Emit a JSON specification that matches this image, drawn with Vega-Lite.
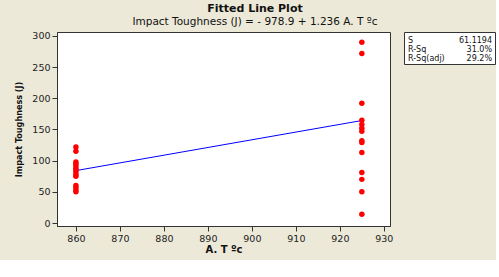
{
  "$schema": "https://vega.github.io/schema/vega-lite/v6.json",
  "background": "#ECE9D8",
  "padding": {"left": 14, "top": 2, "right": 0, "bottom": 5},
  "title": {
    "text": "Fitted Line Plot",
    "subtitle": "Impact Toughness (J) =  - 978.9 + 1.236 A. T ºc",
    "anchor": "middle",
    "font": "DejaVu Sans",
    "fontSize": 11,
    "fontWeight": "bold",
    "color": "#111",
    "subtitleFont": "DejaVu Sans",
    "subtitleFontSize": 10.5,
    "subtitleColor": "#111",
    "subtitlePadding": 3,
    "offset": 3
  },
  "datasets": {
    "points": [
      {"temp": 860, "tough": 122}, {"temp": 860, "tough": 115}, {"temp": 860, "tough": 98},
      {"temp": 860, "tough": 95}, {"temp": 860, "tough": 92}, {"temp": 860, "tough": 88},
      {"temp": 860, "tough": 85}, {"temp": 860, "tough": 82}, {"temp": 860, "tough": 78},
      {"temp": 860, "tough": 75}, {"temp": 860, "tough": 60}, {"temp": 860, "tough": 57},
      {"temp": 860, "tough": 53}, {"temp": 860, "tough": 50},
      {"temp": 925, "tough": 290}, {"temp": 925, "tough": 272}, {"temp": 925, "tough": 192},
      {"temp": 925, "tough": 165}, {"temp": 925, "tough": 158}, {"temp": 925, "tough": 152},
      {"temp": 925, "tough": 147}, {"temp": 925, "tough": 132}, {"temp": 925, "tough": 129},
      {"temp": 925, "tough": 113}, {"temp": 925, "tough": 81}, {"temp": 925, "tough": 70},
      {"temp": 925, "tough": 50}, {"temp": 925, "tough": 14}
    ],
    "fit": [
      {"temp": 860, "tough": 84.06},
      {"temp": 925, "tough": 164.4}
    ],
    "stats": [
      {"stat": "S", "value": "61.1194"},
      {"stat": "R-Sq", "value": "31.0%"},
      {"stat": "R-Sq(adj)", "value": "29.2%"}
    ]
  },
  "config": {
    "font": "DejaVu Sans",
    "view": {"fill": "white", "stroke": "#333", "strokeWidth": 1},
    "axis": {
      "grid": false,
      "domainColor": "#333",
      "tickColor": "#333",
      "labelColor": "#222",
      "labelFont": "DejaVu Sans",
      "labelFontSize": 9.5,
      "labelOverlap": false,
      "tickSize": 5,
      "labelPadding": 2,
      "titleFont": "DejaVu Sans",
      "titleFontWeight": "bold",
      "titleColor": "#111"
    }
  },
  "hconcat": [
    {
      "width": 333,
      "height": 194,
      "encoding": {
        "x": {
          "field": "temp", "type": "quantitative",
          "scale": {"domain": [855.7, 931.4], "nice": false, "zero": false},
          "axis": {"title": "A. T ºc", "values": [860, 870, 880, 890, 900, 910, 920, 930], "titleFontSize": 10, "titlePadding": 2}
        },
        "y": {
          "field": "tough", "type": "quantitative",
          "scale": {"domain": [-4.8, 306.4], "nice": false, "zero": false},
          "axis": {"title": "Impact Toughness (J)", "values": [0, 50, 100, 150, 200, 250, 300], "titleFontSize": 9, "titleFont": "DejaVu Sans Condensed", "titlePadding": 8}
        }
      },
      "layer": [
        {
          "data": {"name": "fit"},
          "mark": {"type": "line", "color": "#0000FF", "strokeWidth": 1}
        },
        {
          "data": {"name": "points"},
          "mark": {"type": "point", "filled": true, "color": "#FF0000", "opacity": 1, "size": 30}
        }
      ]
    },
    {
      "width": 91,
      "height": 32,
      "data": {"name": "stats"},
      "layer": [
        {
          "mark": {"type": "text", "align": "left", "baseline": "middle", "fontSize": 8, "x": 4, "dy": 2, "color": "#111"},
          "encoding": {
            "y": {"field": "stat", "type": "nominal", "sort": null, "axis": null, "scale": {"type": "point", "padding": 0.72}},
            "text": {"field": "stat"}
          }
        },
        {
          "mark": {"type": "text", "align": "right", "baseline": "middle", "fontSize": 8, "x": 88, "dy": 2, "color": "#111"},
          "encoding": {
            "y": {"field": "stat", "type": "nominal", "sort": null, "axis": null},
            "text": {"field": "value"}
          }
        }
      ]
    }
  ],
  "spacing": 14,
  "bounds": "flush"
}
